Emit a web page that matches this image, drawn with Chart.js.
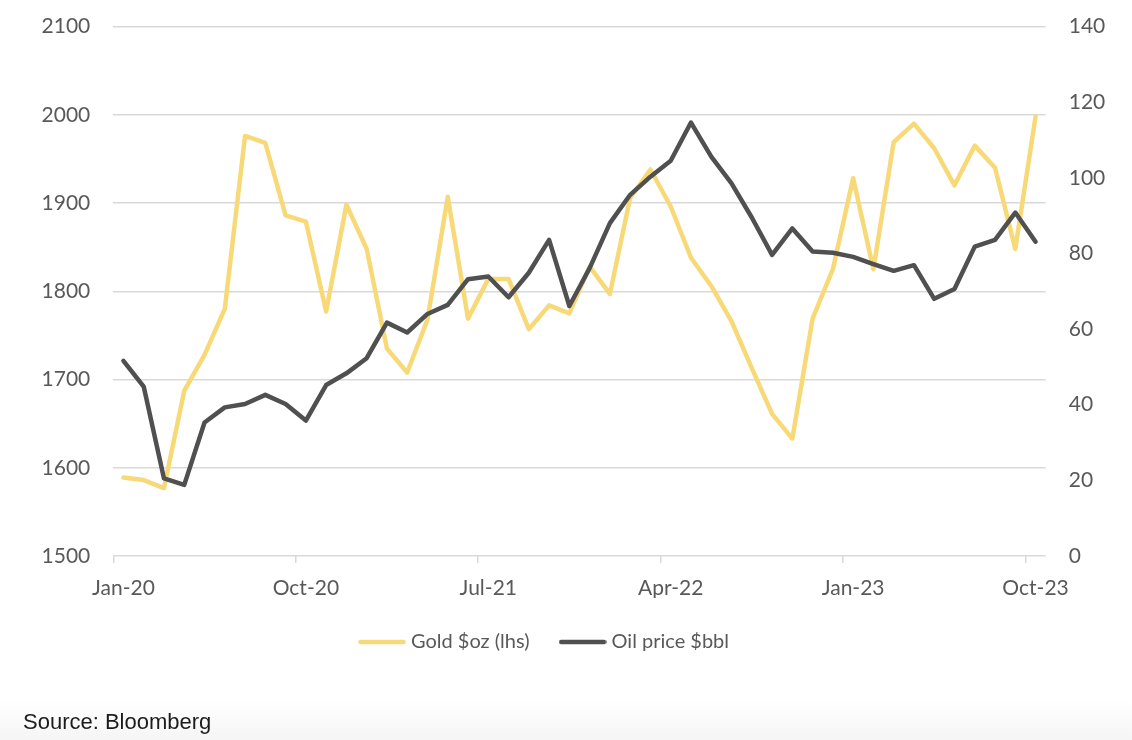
<!DOCTYPE html>
<html>
<head>
<meta charset="utf-8">
<script src="https://cdn.jsdelivr.net/npm/chart.js@4.4.1/dist/chart.umd.min.js"></script>
<style>
  html, body { margin: 0; padding: 0; }
  body { width: 1132px; height: 740px; position: relative; overflow: hidden;
         background: linear-gradient(to bottom, #ffffff 0px, #ffffff 700px, #f5f5f5 740px); }
  #wrap { position: absolute; left: 0; top: 0; width: 1132px; height: 740px; }
  #source { position: absolute; left: 23px; top: 708px; font-family: "Liberation Sans", Arial, sans-serif;
            font-size: 22px; color: #1c1c1c; line-height: 28px; white-space: nowrap; }
</style>
</head>
<body>
<div id="wrap"><canvas id="c"></canvas></div>
<div id="source">Source: Bloomberg</div>
<script>
// ---- Data (monthly, Jan-20 .. Oct-23) ----
const months = [
  'Jan-20','Feb-20','Mar-20','Apr-20','May-20','Jun-20','Jul-20','Aug-20','Sep-20','Oct-20','Nov-20','Dec-20',
  'Jan-21','Feb-21','Mar-21','Apr-21','May-21','Jun-21','Jul-21','Aug-21','Sep-21','Oct-21','Nov-21','Dec-21',
  'Jan-22','Feb-22','Mar-22','Apr-22','May-22','Jun-22','Jul-22','Aug-22','Sep-22','Oct-22','Nov-22','Dec-22',
  'Jan-23','Feb-23','Mar-23','Apr-23','May-23','Jun-23','Jul-23','Aug-23','Sep-23','Oct-23'
];
const goldPrice = [
  1589, 1586, 1577, 1687, 1728, 1780, 1976, 1968, 1886, 1879, 1777, 1898,
  1848, 1735, 1708, 1768, 1907, 1769, 1814, 1814, 1757, 1784, 1775, 1828,
  1797, 1906, 1938, 1896, 1838, 1806, 1766, 1713, 1661, 1633, 1769, 1825,
  1928, 1825, 1969, 1990, 1962, 1920, 1965, 1940, 1848, 1998
];
const oilPrice = [
  51.6, 44.8, 20.5, 18.8, 35.3, 39.3, 40.2, 42.6, 40.2, 35.8, 45.2, 48.3,
  52.3, 61.7, 59.1, 64.0, 66.4, 73.2, 73.9, 68.4, 74.9, 83.6, 66.1, 76.1,
  88.0, 95.5, 100.3, 104.5, 114.6, 105.6, 98.5, 89.5, 79.6, 86.6, 80.5, 80.2,
  79.1, 77.2, 75.4, 76.9, 68.0, 70.6, 81.8, 83.6, 90.8, 83.1
];
const seriesNames = ['Gold $oz (lhs)', 'Oil price $bbl'];
const goldTicks = [1500, 1600, 1700, 1800, 1900, 2000, 2100];
const oilTicks = [0, 20, 40, 60, 80, 100, 120, 140];
const labelEvery = 9;

const FONT = 'Lato';
const TXT = '#595959';
const GRID = '#d9d9d9';
const GOLD = '#F7D978', OIL = '#505050';
const PLOT_LEFT = 113.3, PLOT_RIGHT = 1045.7, LEGEND_SHIFT = 40;

// legend swatch: a short rounded line
function swatch(color) {
  const c = document.createElement('canvas');
  c.width = 48; c.height = 8;
  const g = c.getContext('2d');
  g.strokeStyle = color; g.lineWidth = 4.5; g.lineCap = 'round';
  g.beginPath(); g.moveTo(2.5, 4); g.lineTo(45.5, 4); g.stroke();
  return c;
}

// narrow the legend box on the right so the legend sits where the original one does
const legendShift = {
  id: 'legendShift',
  afterLayout(chart) {
    const lg = chart.legend;
    if (lg) { lg.right -= LEGEND_SHIFT; lg.width -= LEGEND_SHIFT; }
  }
};

new Chart(document.getElementById('c'), {
  type: 'line',
  plugins: [legendShift],
  data: {
    labels: months,
    datasets: [
      { label: seriesNames[0], data: goldPrice, yAxisID: 'y', order: 1,
        borderColor: GOLD, backgroundColor: GOLD, borderWidth: 4.5, pointStyle: swatch(GOLD),
        pointRadius: 0, tension: 0, borderCapStyle: 'round', borderJoinStyle: 'round' },
      { label: seriesNames[1], data: oilPrice, yAxisID: 'y1', order: 0,
        borderColor: OIL, backgroundColor: OIL, borderWidth: 4.5, pointStyle: swatch(OIL),
        pointRadius: 0, tension: 0, borderCapStyle: 'round', borderJoinStyle: 'round' }
    ]
  },
  options: {
    responsive: true, maintainAspectRatio: false, animation: false,
    layout: { padding: { left: 0, right: 0, top: 26.5, bottom: 78 } },
    plugins: {
      tooltip: { enabled: false },
      legend: {
        position: 'bottom',
        labels: {
          usePointStyle: true, pointStyleWidth: 38, boxHeight: 20,
          padding: 34, color: TXT, font: { family: FONT, size: 20 },
          sort: (a, b) => a.datasetIndex - b.datasetIndex
        }
      }
    },
    scales: {
      x: {
        offset: true,
        grid: {
          offset: true, drawOnChartArea: false, drawTicks: true, tickLength: 7, lineWidth: 1.5,
          color: (ctx) => (ctx.tick && ctx.index % labelEvery === 0) ? GRID : 'rgba(0,0,0,0)'
        },
        border: { display: false },
        ticks: {
          autoSkip: false, maxRotation: 0, minRotation: 0, padding: 13,
          color: TXT, font: { family: FONT, size: 21 },
          callback: (v, i) => (i % labelEvery === 0 ? months[i] : '')
        },
        afterFit: (s) => { s.height = 42; }
      },
      y: {
        position: 'left', min: goldTicks[0], max: goldTicks[goldTicks.length - 1],
        afterBuildTicks: (s) => { s.ticks = goldTicks.map(v => ({ value: v })); },
        grid: { color: GRID, lineWidth: 1.5, drawTicks: true, tickLength: 23, tickColor: 'rgba(0,0,0,0)' },
        border: { display: false },
        ticks: { padding: 0, color: TXT, font: { family: FONT, size: 21 }, callback: (v) => String(v) },
        afterFit: (s) => { s.width = PLOT_LEFT; }
      },
      y1: {
        position: 'right', min: oilTicks[0], max: oilTicks[oilTicks.length - 1],
        afterBuildTicks: (s) => { s.ticks = oilTicks.map(v => ({ value: v })); },
        grid: { drawOnChartArea: false, drawTicks: true, tickLength: 23, tickColor: 'rgba(0,0,0,0)' },
        border: { display: false },
        ticks: { padding: 0, color: TXT, font: { family: FONT, size: 21 }, callback: (v) => String(v) },
        afterFit: (s) => { s.width = 1132 - PLOT_RIGHT; }
      }
    }
  }
});
</script>
</body>
</html>
